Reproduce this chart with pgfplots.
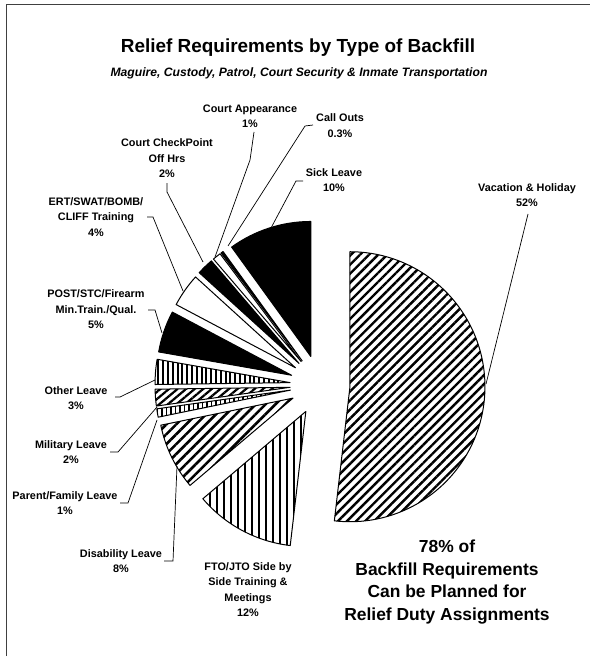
\documentclass[border=0pt]{standalone}
\usepackage{pgfplots}
\pgfplotsset{compat=1.18}
\usepackage{pgfplotstable}
\usetikzlibrary{patterns.meta}
\usepackage{fontspec}
\setmainfont{Liberation Sans}

% slices in clockwise order starting at 12 o'clock; value in %, explode distance
\pgfplotstableread[col sep=comma]{
name,value,explode
Vacation,52,30
FTO,12,30
Disability,8,30
Parent,1,30
Military,2,30
Other,3,30
POST,5,30
ERT,4,30
CheckPoint,2,30
Appearance,1,30
CallOuts,0.3,30
Sick,10,30
}\piedata

\tikzset{
 slice0/.style={pattern={Lines[angle=45,distance=6.4bp,line width=2.4bp]}},
 slice1/.style={pattern={Lines[angle=90,distance=7bp,line width=2.4bp]}},
 slice2/.style={pattern={Lines[angle=45,distance=7bp,line width=2.6bp]}},
 slice3/.style={pattern={Lines[angle=90,distance=4.5bp,line width=1.8bp]}},
 slice4/.style={pattern={Lines[angle=40,distance=5.5bp,line width=2.2bp]}},
 slice5/.style={pattern={Lines[angle=90,distance=4.8bp,line width=2bp]}},
 slice6/.style={fill=black},
 slice7/.style={fill=white},
 slice8/.style={fill=black},
 slice9/.style={fill=white},
 slice10/.style={fill=black},
 slice11/.style={fill=black},
}
\newcommand\lab{\bfseries\fontsize{10.9}{15.5}\selectfont}

\begin{document}
\begin{tikzpicture}
\begin{axis}[scale only axis, width=595bp, height=660bp,
  xmin=0, xmax=595, ymin=0, ymax=660, y dir=reverse,
  hide axis, clip=false]
\path (axis cs:0,0) rectangle (axis cs:595,660);
\pgfplotsextra{
 \pgfplotstablegetrowsof{\piedata}
 \pgfmathtruncatemacro\N{\pgfplotsretval-1}
 \gdef\tot{0}
 \foreach \i in {0,...,\N}{
   \pgfplotstablegetelem{\i}{value}\of\piedata
   \pgfmathsetmacro\t{\tot+\pgfplotsretval}
   \xdef\tot{\t}
 }
 \gdef\cum{0}
 \foreach \i in {0,...,\N}{
   \pgfplotstablegetelem{\i}{value}\of\piedata \let\v\pgfplotsretval
   \pgfplotstablegetelem{\i}{explode}\of\piedata \let\e\pgfplotsretval
   \pgfmathsetmacro\a{90-\cum/\tot*360}
   \pgfmathsetmacro\b{90-(\cum+\v)/\tot*360}
   \pgfmathsetmacro\m{(\a+\b)/2}
   \pgfmathsetmacro\ax{320+\e*cos(\m)}
   \pgfmathsetmacro\ay{385-\e*sin(\m)}
   \edef\tmp{\noexpand\draw[line width=1bp, line join=round, slice\i] (axis cs:\ax,\ay) -- ++(\a:135bp) arc[start angle=\a, end angle=\b, radius=135bp] -- cycle;}
   \tmp
   \pgfmathsetmacro\c{\cum+\v}
   \xdef\cum{\c}
 }
}
% frame
\draw[line width=0.8bp, black!75] (axis cs:6,656) -- (axis cs:6,4) -- (axis cs:590,4);
% titles
\node[font=\bfseries\fontsize{19}{22}\selectfont] at (axis cs:298,48) {Relief Requirements by Type of Backfill};
\node[font=\bfseries\itshape\fontsize{12.2}{14}\selectfont] at (axis cs:299,73) {Maguire, Custody, Patrol, Court Security \& Inmate Transportation};
% labels
\node[align=center, font=\lab] at (axis cs:250,116) {Court Appearance\\1\%};
\node[align=center, font=\lab] at (axis cs:340,125.5) {Call Outs\\0.3\%};
\node[align=center, font=\lab] at (axis cs:167,158.5) {Court CheckPoint\\Off Hrs\\2\%};
\node[align=center, font=\lab] at (axis cs:334,180) {Sick Leave\\10\%};
\node[align=center, font=\lab] at (axis cs:527,195) {Vacation \& Holiday\\52\%};
\node[align=center, font=\lab] at (axis cs:96,217) {ERT/SWAT/BOMB/\\CLIFF Training\\4\%};
\node[align=center, font=\lab] at (axis cs:96,309.5) {POST/STC/Firearm\\Min.Train./Qual.\\5\%};
\node[align=center, font=\lab] at (axis cs:76,398) {Other Leave\\3\%};
\node[align=center, font=\lab] at (axis cs:71,452) {Military Leave\\2\%};
\node[align=center, font=\lab] at (axis cs:65,503) {Parent/Family Leave\\1\%};
\node[align=center, font=\lab] at (axis cs:121,561) {Disability Leave\\8\%};
\node[align=center, font=\lab] at (axis cs:248,589.5) {FTO/JTO Side by\\Side Training \&\\Meetings\\12\%};
\node[align=center, font=\bfseries\fontsize{17.5}{23}\selectfont] at (axis cs:447,582) {78\% of\\Backfill Requirements\\Can be Planned for\\Relief Duty Assignments};
% leader lines
\begin{scope}[line width=0.7bp]
\draw (axis cs:528,214) -- (axis cs:486,384);
\draw (axis cs:303,181) -- (axis cs:296,181) -- (axis cs:271,228);
\draw (axis cs:313,125) -- (axis cs:305,126) -- (axis cs:228,246);
\draw (axis cs:254,132) -- (axis cs:250,160) -- (axis cs:215,257);
\draw (axis cs:167,183) -- (axis cs:167,192) -- (axis cs:203,262);
\draw (axis cs:147,217) -- (axis cs:153,217) -- (axis cs:183,291);
\draw (axis cs:148,310) -- (axis cs:155,310) -- (axis cs:162,333);
\draw (axis cs:115,397) -- (axis cs:120,397) -- (axis cs:155,380);
\draw (axis cs:110,452) -- (axis cs:118,452) -- (axis cs:157,407);
\draw (axis cs:120,503) -- (axis cs:128,503) -- (axis cs:157,420);
\draw (axis cs:164,561) -- (axis cs:173,561) -- (axis cs:177,466);
\end{scope}
\end{axis}
\end{tikzpicture}
\end{document}
